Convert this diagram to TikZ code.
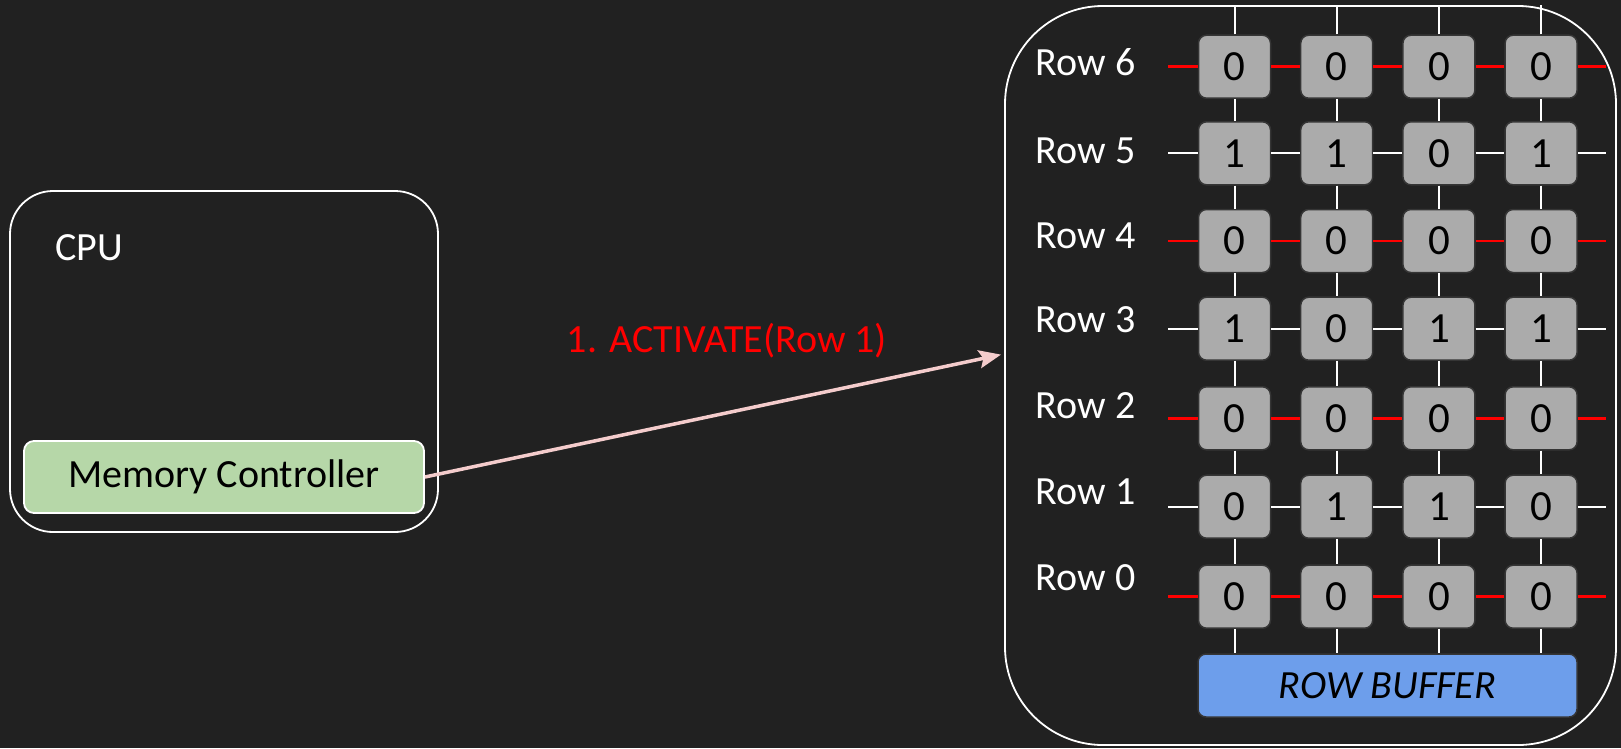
\documentclass[tikz,border=0pt]{standalone}
\usepackage{fontspec}
\setmainfont{Carlito}
\usetikzlibrary{positioning,arrows.meta}
\definecolor{bgc}{HTML}{212121}
\definecolor{cellc}{HTML}{ABABAB}
\definecolor{celld}{HTML}{353535}
\definecolor{mcc}{HTML}{B6D7A8}
\definecolor{rbc}{HTML}{6D9EEB}
\definecolor{arrc}{HTML}{F4CCCC}
\definecolor{actc}{HTML}{FF0000}

\begin{document}
\begin{tikzpicture}[x=1pt, y=-1pt, font=\fontsize{40}{48}\selectfont,
	frame/.style={rectangle, draw=white, line width=1.8pt, inner sep=0pt},
	cell/.style={rectangle, rounded corners=8pt, draw=celld, fill=cellc, line width=1.5pt,
	             minimum width=72pt, minimum height=63pt, inner sep=0pt, text=black,
	             font=\fontsize{43}{48}\selectfont},
	rowlbl/.style={anchor=west, inner sep=0pt, text=white},
	wire/.style={white, line width=2pt},
	actwire/.style={actc, line width=2.5pt},
	cmd/.style={arrc, line width=3.5pt, -{Stealth[length=22pt, width=18pt, inset=4pt]}},]
	 \fill[bgc] (0,0) rectangle (1621,748);
	 \useasboundingbox (0,0) rectangle (1621,748);

	 % CPU side
	 \node[frame, rounded corners=43pt, minimum width=428pt, minimum height=341pt] (cpu) at (224,361.5) {};
	 \node[rowlbl] (cpulbl) at (55,248) {CPU};
	 \node[frame, fill=mcc, rounded corners=10pt, minimum width=400pt, minimum height=72pt, text=black] (mc) at (224,477) {Memory Controller};

	 % DRAM bank
	 \node[frame, rounded corners=98pt, minimum width=611pt, minimum height=739pt] (dram) at (1310.5,375.5) {};
	 \node[cell, minimum width=379pt, fill=rbc, font=\fontsize{40}{48}\selectfont\itshape] (rb) at (1387.5,685.5) {ROW BUFFER};

	 \foreach \r/\y/\ly/\wc/\a/\b/\c/\d in {6/66.7/62/actwire/0/0/0/0, 5/153.3/151/wire/1/1/0/1,
	     4/241/236/actwire/0/0/0/0, 3/328.7/320/wire/1/0/1/1, 2/418.3/406/actwire/0/0/0/0,
	     1/506.7/492/wire/0/1/1/0, 0/596.7/578/actwire/0/0/0/0} {
	   \node[rowlbl] (lbl\r) at (1035.5,\ly) {Row \r};
	   \node[cell] (c\r0) at (1234.5,\y) {\a};
	   \node[cell, right=28.7pt of c\r0] (c\r1) {\b};
	   \node[cell, right=28.7pt of c\r1] (c\r2) {\c};
	   \node[cell, right=28.7pt of c\r2] (c\r3) {\d};
	   \draw[\wc] (c\r0.west) -- ++(-30,0);
	   \draw[\wc] (c\r0) -- (c\r1);
	   \draw[\wc] (c\r1) -- (c\r2);
	   \draw[\wc] (c\r2) -- (c\r3);
	   \draw[\wc] (c\r3.east) -- ++(28,0);
	 }

	 \foreach \i in {0,...,3} {
	   \draw[wire] (c6\i) -- (c6\i |- dram.north);
	   \foreach \r/\s in {6/5, 5/4, 4/3, 3/2, 2/1, 1/0}
	     \draw[wire] (c\r\i) -- (c\s\i);
	   \draw[wire] (c0\i) -- (c0\i |- rb.north);
	 }

	 % activate command
	 \coordinate (actend) at (1001,354.6);
	 \draw[cmd] (mc.east) -- (actend);
	 \node[text=actc] (actlbl) at (727,341) {1. ACTIVATE(Row 1)};
\end{tikzpicture}
\end{document}
